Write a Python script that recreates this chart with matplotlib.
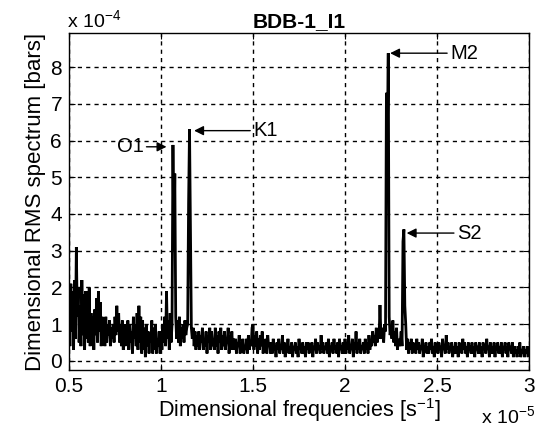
import numpy as np
import matplotlib
matplotlib.use("Agg")
import matplotlib.pyplot as plt

plt.rcParams['font.family'] = ['Liberation Sans', 'DejaVu Sans']
plt.rcParams['mathtext.fontset'] = 'custom'
plt.rcParams['mathtext.rm'] = 'Liberation Sans'

# Spectrum amplitude (x 1e-4 bars), sampled every 0.005 (x 1e-5 s^-1) from 0.5 to 3.0
amp = [
    # 0.50
    1.6, 0.4, 2.1, 0.8, 1.9, 0.3, 2.2, 0.6, 3.1, 1.2, 2.0, 0.5, 1.5, 0.4, 2.2, 0.7, 1.8, 0.3, 1.9, 0.6,
    # 0.60
    1.9, 0.5, 2.0, 0.4, 1.3, 0.6, 1.2, 0.3, 1.4, 0.7, 1.7, 0.5, 1.9, 0.8, 1.6, 0.4, 1.2, 0.6, 1.1, 0.4,
    # 0.70
    1.2, 0.5, 1.0, 0.7, 1.1, 0.4, 0.9, 0.6, 1.0, 0.5, 1.2, 0.7, 1.5, 0.8, 1.3, 0.5, 1.0, 0.4, 1.1, 0.3,
    # 0.80
    1.0, 0.4, 0.9, 0.6, 1.1, 0.3, 1.0, 0.5, 0.8, 0.2, 1.2, 0.6, 1.0, 0.4, 1.3, 0.3, 1.5, 0.5, 1.2, 0.2,
    # 0.90
    1.1, 0.3, 0.9, 0.1, 1.0, 0.4, 0.8, 0.2, 0.7, 0.5, 1.1, 0.2, 0.9, 0.3, 1.0, 0.2, 0.6, 0.4, 0.8, 0.2,
    # 1.00
    0.8, 0.3, 1.0, 0.5, 1.2, 0.4, 1.9, 0.6, 1.1, 0.3, 1.3, 0.5, 1.0, 5.88, 3.0, 5.1, 1.2, 0.6, 1.1, 0.5,
    # 1.10
    1.2, 0.4, 0.9, 0.6, 1.0, 0.5, 1.1, 0.7, 0.9, 1.0, 4.3, 6.31, 3.5, 0.9, 0.6, 0.9, 0.4, 0.8, 0.3, 0.7,
    # 1.20
    0.4, 0.8, 0.3, 0.7, 0.5, 0.9, 0.3, 0.6, 0.4, 0.8, 0.2, 0.7, 0.5, 0.9, 0.3, 0.8, 0.4, 0.6, 0.3, 0.9,
    # 1.30
    0.4, 0.7, 0.2, 0.8, 0.5, 0.9, 0.3, 0.7, 0.4, 0.8, 0.3, 0.6, 0.5, 0.9, 0.2, 0.7, 0.4, 0.8, 0.3, 0.6,
    # 1.40
    0.3, 0.6, 0.2, 0.5, 0.4, 0.7, 0.2, 0.5, 0.3, 0.6, 0.2, 0.4, 0.3, 0.6, 0.2, 0.7, 0.3, 0.5, 0.4, 0.9,
    # 1.50
    1.0, 0.3, 0.7, 0.4, 0.8, 0.2, 0.6, 0.3, 0.7, 0.4, 0.8, 0.2, 0.5, 0.3, 0.6, 0.2, 0.7, 0.4, 0.5, 0.2,
    # 1.60
    0.5, 0.2, 0.6, 0.3, 0.4, 0.1, 0.5, 0.3, 0.6, 0.2, 0.4, 0.3, 0.7, 0.2, 0.5, 0.1, 0.4, 0.3, 0.6, 0.2,
    # 1.70
    0.4, 0.2, 0.5, 0.1, 0.4, 0.3, 0.5, 0.2, 0.4, 0.1, 0.6, 0.3, 0.4, 0.2, 0.5, 0.2, 0.4, 0.1, 0.5, 0.3,
    # 1.80
    0.5, 0.2, 0.4, 0.3, 0.5, 0.1, 0.4, 0.3, 0.6, 0.2, 0.5, 0.3, 0.4, 0.2, 0.7, 0.3, 0.5, 0.2, 0.4, 0.3,
    # 1.90
    0.5, 0.2, 0.6, 0.1, 0.4, 0.3, 0.5, 0.2, 0.6, 0.3, 0.4, 0.2, 0.5, 0.1, 0.6, 0.3, 0.4, 0.2, 0.5, 0.2,
    # 2.00
    0.6, 0.2, 0.5, 0.3, 0.7, 0.2, 0.4, 0.3, 0.6, 0.1, 0.5, 0.3, 0.8, 0.2, 0.5, 0.3, 0.6, 0.2, 0.4, 0.3,
    # 2.10
    0.5, 0.2, 0.6, 0.3, 0.5, 0.2, 0.7, 0.3, 0.5, 0.4, 0.8, 0.5, 0.7, 0.4, 0.9, 0.5, 0.8, 0.6, 1.52, 0.7,
    # 2.20
    0.6, 0.9, 0.5, 1.0, 0.8, 7.3, 6.0, 8.38, 1.2, 0.7, 0.9, 0.6, 1.1, 0.5, 0.8, 0.4, 0.9, 0.3, 0.6, 0.4,
    # 2.30
    0.5, 0.8, 0.4, 3.25, 3.58, 1.5, 1.0, 0.3, 0.6, 0.2, 0.5, 0.3, 0.6, 0.2, 0.5, 0.3, 0.4, 0.2, 0.6, 0.3,
    # 2.40
    0.5, 0.2, 0.4, 0.3, 0.6, 0.1, 0.4, 0.3, 0.5, 0.2, 0.4, 0.2, 0.5, 0.3, 0.6, 0.2, 0.4, 0.1, 0.5, 0.3,
    # 2.50
    0.4, 0.2, 0.5, 0.3, 0.4, 0.1, 0.6, 0.3, 0.4, 0.2, 0.7, 0.3, 0.5, 0.2, 0.4, 0.3, 0.5, 0.1, 0.4, 0.2,
    # 2.60
    0.5, 0.2, 0.4, 0.1, 0.5, 0.3, 0.4, 0.2, 0.6, 0.3, 0.5, 0.2, 0.4, 0.1, 0.5, 0.3, 0.4, 0.2, 0.5, 0.2,
    # 2.70
    0.4, 0.1, 0.5, 0.3, 0.4, 0.2, 0.5, 0.2, 0.4, 0.1, 0.5, 0.3, 0.4, 0.2, 0.6, 0.3, 0.4, 0.1, 0.5, 0.2,
    # 2.80
    0.4, 0.2, 0.5, 0.1, 0.4, 0.3, 0.5, 0.2, 0.4, 0.2, 0.5, 0.1, 0.4, 0.3, 0.5, 0.2, 0.4, 0.1, 0.5, 0.3,
    # 2.90
    0.4, 0.2, 0.5, 0.1, 0.4, 0.2, 0.3, 0.1, 0.4, 0.2, 0.5, 0.1, 0.3, 0.2, 0.4, 0.1, 0.3, 0.2, 0.4, 0.1,
    # 3.00
    0.3,
]
freq = np.linspace(0.5, 3.0, len(amp))

# Tidal constituents: label, arrow head (freq, amp), label position (freq, amp)
const_names = ['O1', 'K1', 'M2', 'S2']
const_head = [(1.03, 5.83), (1.18, 6.27), (2.245, 8.38), (2.335, 3.48)]
const_text = [(0.76, 5.83), (1.50, 6.27), (2.57, 8.38), (2.607, 3.48)]

xticks = [0.5, 1, 1.5, 2, 2.5, 3]
xticklabels = ['0.5', '1', '1.5', '2', '2.5', '3']
yticks = [0, 1, 2, 3, 4, 5, 6, 7, 8]

fig = plt.figure(figsize=(5.36, 4.33), dpi=100)
ax = fig.add_axes([0.1287, 0.1455, 0.8583, 0.7783])
ax.plot(freq, amp, color='black', lw=2.0, solid_joinstyle='miter')

ax.set_xlim(0.5, 3.0)
ax.set_ylim(-0.25, 8.93)
ax.set_xticks(xticks)
ax.set_xticklabels(xticklabels)
ax.set_yticks(yticks)
ax.tick_params(direction='in', length=4, labelsize=15, top=True, right=True, pad=5)
ax.grid(True, color='black', linestyle=(0, (3, 3)), lw=1.0)
for s in ax.spines.values():
    s.set_linewidth(1.0)

for name, head, txt in zip(const_names, const_head, const_text):
    ax.annotate(name, xy=head, xytext=txt, fontsize=14.5, va='center', ha='left',
                arrowprops=dict(arrowstyle='-|>', color='black', lw=1.0,
                                shrinkA=0, shrinkB=0, mutation_scale=14))

ax.set_title('BDB-1_I1', fontsize=15, fontweight='bold', pad=4)
ax.set_xlabel(r'Dimensional frequencies [s$^{\mathregular{-1}}$]', fontsize=15.5, labelpad=0)
ax.set_ylabel('Dimensional RMS spectrum [bars]', fontsize=16, labelpad=3)

fig.text(67/536, 1 - 21/433, r'x 10$^{-4}$', fontsize=14, ha='left', va='center')
fig.text(481/536, 1 - 417/433, r'x 10$^{-5}$', fontsize=14, ha='left', va='center')

fig.savefig('out.png', dpi=100)
